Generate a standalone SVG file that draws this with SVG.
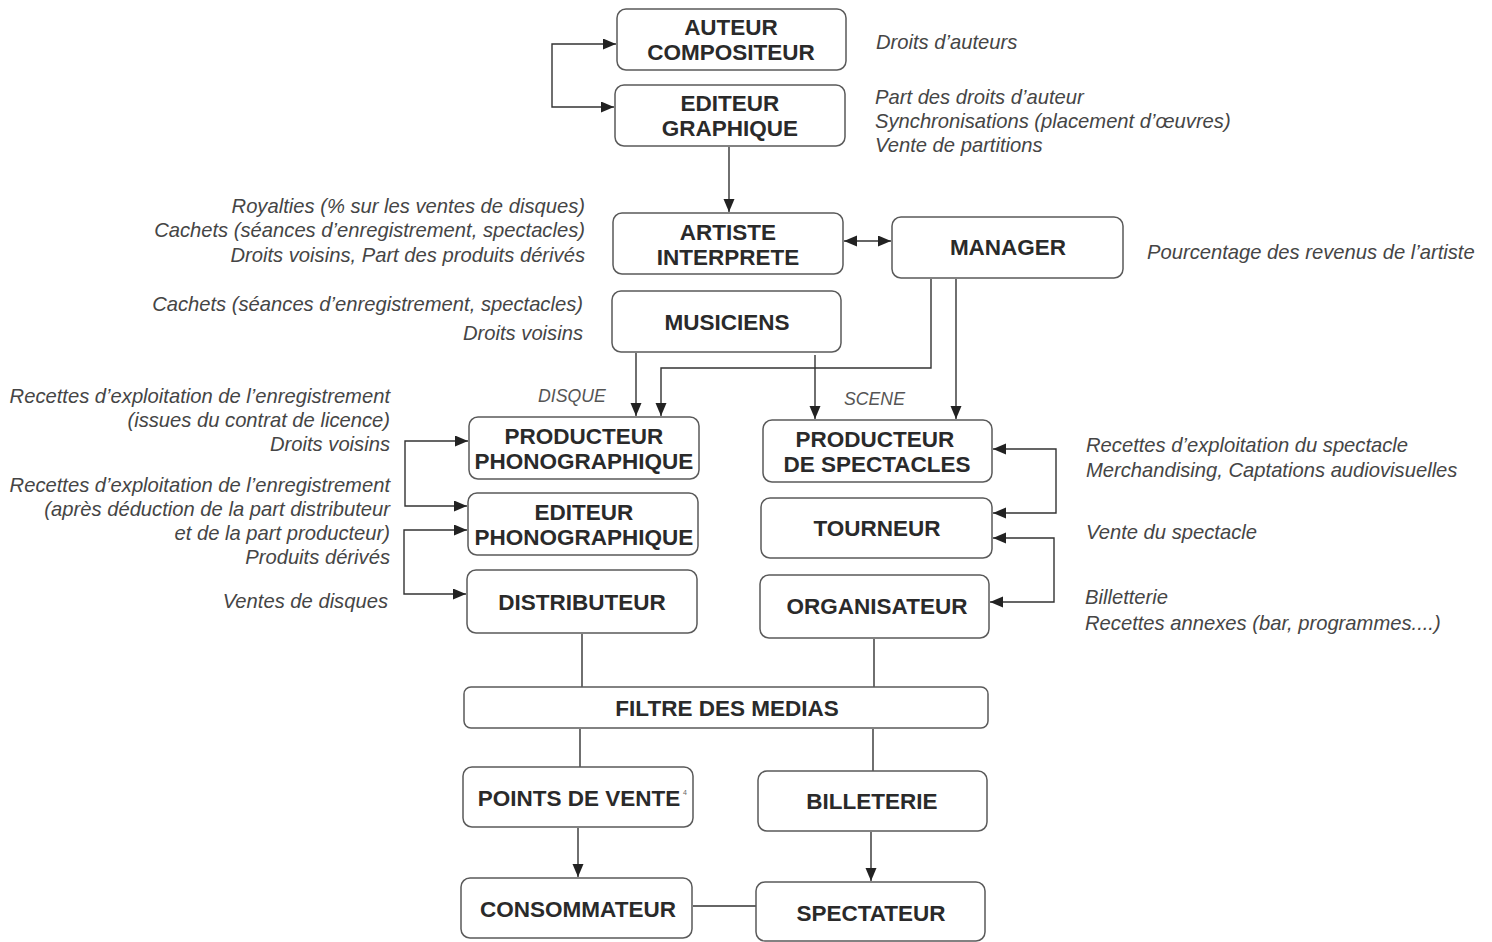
<svg xmlns="http://www.w3.org/2000/svg" width="1492" height="942" viewBox="0 0 1492 942">
<style>
.box{fill:#fff;stroke:#5a5a5a;stroke-width:1.5}
.nt{font-family:"Liberation Sans",Arial,sans-serif;font-weight:bold;font-size:22.5px;fill:#2a2a2a;text-anchor:middle}
.lb{font-family:"Liberation Sans",Arial,sans-serif;font-style:italic;font-size:20.2px;fill:#454545}
.r{text-anchor:end}
.sm{font-family:"Liberation Sans",Arial,sans-serif;font-style:italic;font-size:17.7px;fill:#555}
.ln{fill:none;stroke:#333;stroke-width:1.4}
.a{marker-end:url(#ah)}
.aa{marker-start:url(#ah);marker-end:url(#ah)}
</style>
<defs>
<marker id="ah" markerUnits="userSpaceOnUse" markerWidth="14" markerHeight="12" refX="13" refY="5.5" orient="auto-start-reverse">
<path d="M0,0 L13,5.5 L0,11 z" fill="#222"/>
</marker>
</defs>
<rect width="1492" height="942" fill="#fff"/>
<g id="connectors">
<path class="ln aa" d="M616,44 H552 V107 H614"/>
<path class="ln a" d="M729,147 V212"/>
<path class="ln aa" d="M844,241 H891"/>
<path class="ln a" d="M931,279 V368 H661 V416"/>
<path class="ln a" d="M956,279 V419"/>
<path class="ln a" d="M636,353 V416"/>
<path class="ln a" d="M815,355 V419"/>
<path class="ln aa" d="M468,441 H405 V506 H467"/>
<path class="ln aa" d="M467,530 H404 V594 H466"/>
<path class="ln aa" d="M993,449 H1056 V513 H993"/>
<path class="ln aa" d="M993,538 H1054 V602 H990"/>
<path class="ln" d="M582,634 V687"/>
<path class="ln" d="M580,729 V767"/>
<path class="ln" d="M874,639 V687"/>
<path class="ln" d="M873,729 V771"/>
<path class="ln a" d="M578,828 V877"/>
<path class="ln a" d="M871,832 V881"/>
<path class="ln" d="M693,906 H756"/>
</g>
<g id="auteur"><rect class="box" x="617" y="9" width="229" height="61" rx="9"/><text class="nt" x="731" y="35">AUTEUR</text><text class="nt" x="731" y="60">COMPOSITEUR</text></g>
<g id="editeur-graphique"><rect class="box" x="615" y="85" width="230" height="61" rx="9"/><text class="nt" x="730" y="111">EDITEUR</text><text class="nt" x="730" y="136">GRAPHIQUE</text></g>
<g id="artiste"><rect class="box" x="613" y="213" width="230" height="61" rx="9"/><text class="nt" x="728" y="240">ARTISTE</text><text class="nt" x="728" y="265">INTERPRETE</text></g>
<g id="manager"><rect class="box" x="892" y="217" width="231" height="61" rx="9"/><text class="nt" x="1008" y="255">MANAGER</text></g>
<g id="musiciens"><rect class="box" x="612" y="291" width="229" height="61" rx="9"/><text class="nt" x="727" y="330">MUSICIENS</text></g>
<g id="producteur-phono"><rect class="box" x="469" y="417" width="230" height="62" rx="9"/><text class="nt" x="584" y="444">PRODUCTEUR</text><text class="nt" x="584" y="469">PHONOGRAPHIQUE</text></g>
<g id="editeur-phono"><rect class="box" x="468" y="493" width="230" height="62" rx="9"/><text class="nt" x="584" y="520">EDITEUR</text><text class="nt" x="584" y="545">PHONOGRAPHIQUE</text></g>
<g id="distributeur"><rect class="box" x="467" y="570" width="230" height="63" rx="9"/><text class="nt" x="582" y="610">DISTRIBUTEUR</text></g>
<g id="producteur-spectacles"><rect class="box" x="763" y="420" width="229" height="62" rx="9"/><text class="nt" x="875" y="447">PRODUCTEUR</text><text class="nt" x="877" y="472">DE SPECTACLES</text></g>
<g id="tourneur"><rect class="box" x="761" y="498" width="231" height="60" rx="9"/><text class="nt" x="877" y="536">TOURNEUR</text></g>
<g id="organisateur"><rect class="box" x="760" y="575" width="229" height="63" rx="9"/><text class="nt" x="877" y="614">ORGANISATEUR</text></g>
<g id="filtre"><rect class="box" x="464" y="687" width="524" height="41" rx="7"/><text class="nt" x="727" y="716">FILTRE DES MEDIAS</text></g>
<g id="points-de-vente"><rect class="box" x="463" y="767" width="230" height="60" rx="9"/><text class="nt" x="579" y="806">POINTS DE VENTE</text><text x="683" y="795" font-family="Liberation Sans,Arial,sans-serif" font-size="7" fill="#666">4</text></g>
<g id="billeterie"><rect class="box" x="758" y="771" width="229" height="60" rx="9"/><text class="nt" x="872" y="809">BILLETERIE</text></g>
<g id="consommateur"><rect class="box" x="461" y="878" width="231" height="60" rx="9"/><text class="nt" x="578" y="917">CONSOMMATEUR</text></g>
<g id="spectateur"><rect class="box" x="756" y="882" width="229" height="59" rx="9"/><text class="nt" x="871" y="921">SPECTATEUR</text></g>
<g id="labels">
<text class="lb" x="876" y="49">Droits d’auteurs</text>
<text class="lb" x="875" y="104">Part des droits d’auteur</text>
<text class="lb" x="875" y="128">Synchronisations (placement d’œuvres)</text>
<text class="lb" x="875" y="152">Vente de partitions</text>
<text class="lb r" x="585" y="213">Royalties (% sur les ventes de disques)</text>
<text class="lb r" x="585" y="237">Cachets (séances d’enregistrement, spectacles)</text>
<text class="lb r" x="585" y="262">Droits voisins, Part des produits dérivés</text>
<text class="lb" x="1147" y="259">Pourcentage des revenus de l’artiste</text>
<text class="lb r" x="583" y="311">Cachets (séances d’enregistrement, spectacles)</text>
<text class="lb r" x="583" y="340">Droits voisins</text>
<text class="sm" x="538" y="402">DISQUE</text>
<text class="sm" x="844" y="405">SCENE</text>
<text class="lb r" x="390" y="403">Recettes d’exploitation de l’enregistrement</text>
<text class="lb r" x="390" y="427">(issues du contrat de licence)</text>
<text class="lb r" x="390" y="451">Droits voisins</text>
<text class="lb r" x="390" y="492">Recettes d’exploitation de l’enregistrement</text>
<text class="lb r" x="390" y="516">(après déduction de la part distributeur</text>
<text class="lb r" x="390" y="540">et de la part producteur)</text>
<text class="lb r" x="390" y="564">Produits dérivés</text>
<text class="lb r" x="388" y="608">Ventes de disques</text>
<text class="lb" x="1086" y="452">Recettes d’exploitation du spectacle</text>
<text class="lb" x="1086" y="477">Merchandising, Captations audiovisuelles</text>
<text class="lb" x="1086" y="539">Vente du spectacle</text>
<text class="lb" x="1085" y="604">Billetterie</text>
<text class="lb" x="1085" y="630">Recettes annexes (bar, programmes....)</text>
</g>
</svg>
